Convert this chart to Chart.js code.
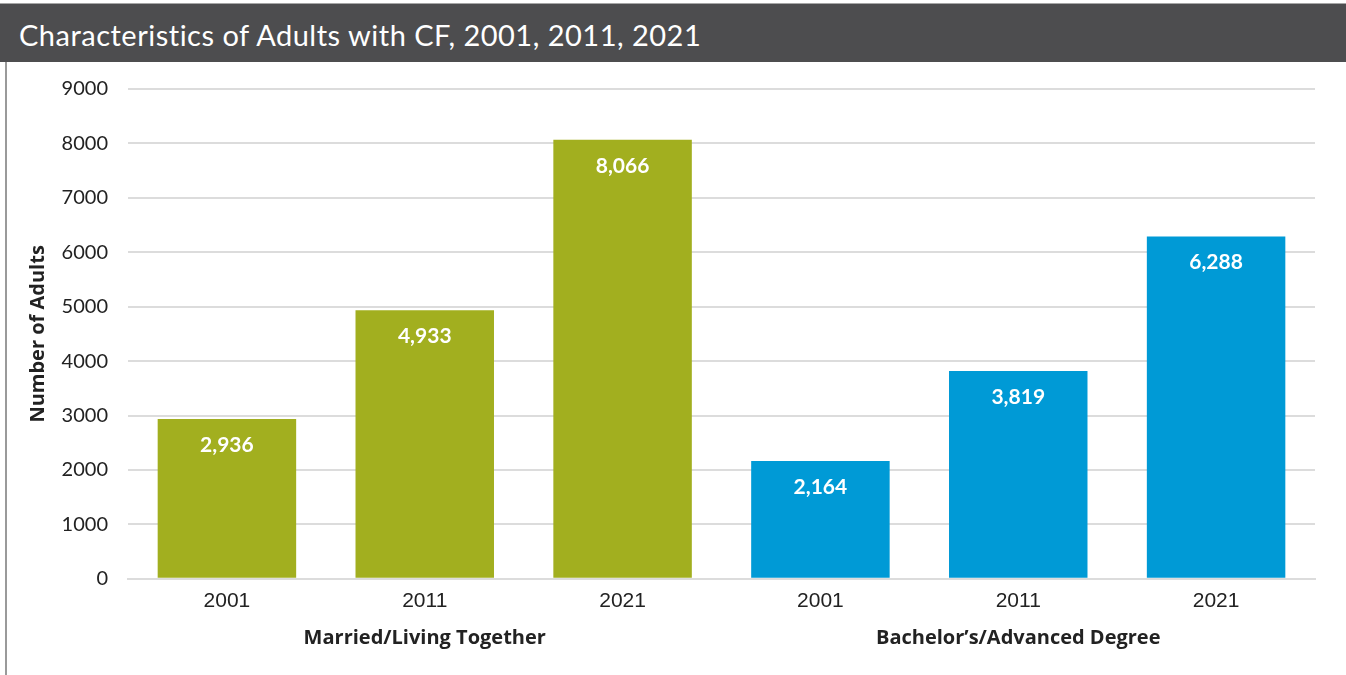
<!DOCTYPE html>
<html>
<head>
<meta charset="utf-8">
<script src="https://cdn.jsdelivr.net/npm/chart.js@4.4.0/dist/chart.umd.min.js"></script>
<style>
  body { margin: 0; background: #fff; width: 1346px; height: 675px; overflow: hidden; position: relative; }
  .frame { position: absolute; left: 0; top: 3px; width: 1346px; height: 672px; border-top: 1px solid #a6a6a6; }
  .head { position: absolute; left: 0; top: 4px; width: 1346px; height: 58px; background: #4d4d4f; }
  .head h1 { margin: 0; padding: 2px 0 0 19px; font: 400 29px Lato, sans-serif; line-height: 58px; color: #fff; letter-spacing: 0.5px; }
  .side { position: absolute; left: 5px; top: 62px; width: 2px; height: 613px; background: #9a9a9a; }
  .wrap { position: absolute; left: 0; top: 62px; width: 1346px; height: 613px; }
</style>
</head>
<body>
<div class="frame"></div>
<div class="head"><h1>Characteristics of Adults with CF, 2001, 2011, 2021</h1></div>
<div class="side"></div>
<div class="wrap"><canvas id="myChart"></canvas></div>
<script>
const years = ["2001", "2011", "2021", "2001", "2011", "2021"];
const groups = ["Married/Living Together", "Bachelor\u2019s/Advanced Degree"];
const adults = [2936, 4933, 8066, 2164, 3819, 6288];
const barColors = ["#a2af1f", "#a2af1f", "#a2af1f", "#009ad6", "#009ad6", "#009ad6"];
const yTicks = [0, 1000, 2000, 3000, 4000, 5000, 6000, 7000, 8000, 9000];

// value printed inside the top of each bar
const barValues = {
  id: "barValues",
  afterDatasetsDraw(chart) {
    const ctx = chart.ctx;
    const meta = chart.getDatasetMeta(0);
    ctx.save();
    ctx.fillStyle = "#fff";
    ctx.font = "bold 21px Lato, sans-serif";
    ctx.textAlign = "center";
    ctx.textBaseline = "middle";
    meta.data.forEach(function (bar, i) {
      ctx.fillText(adults[i].toLocaleString("en-US"), bar.x, bar.y + 26);
    });
    ctx.restore();
  },
};

function renderChart() {
  const ctx = document.getElementById("myChart");

  new Chart(ctx, {
    type: "bar",
    data: {
      labels: years,
      datasets: [
        {
          data: adults,
          backgroundColor: barColors,
          categoryPercentage: 0.7,
          barPercentage: 1,
        },
      ],
    },
    options: {
      responsive: true,
      maintainAspectRatio: false,
      animation: false,
      layout: { padding: { top: 27, right: 31, bottom: 23, left: 0 } },
      plugins: { legend: { display: false }, tooltip: { enabled: false } },
      scales: {
        x: {
          z: 1,
          grid: { display: false, drawTicks: false },
          border: { display: true, color: "#dcdcdc", width: 2 },
          ticks: { color: "#222", font: { family: "Liberation Sans", size: 21 }, padding: 10 },
        },
        x2: {
          type: "category",
          labels: groups,
          offset: true,
          position: "bottom",
          grid: { display: false, drawTicks: false },
          border: { display: false },
          ticks: { color: "#222", font: { family: "Open Sans", size: 20, weight: "bold" }, padding: 2 },
        },
        y: {
          min: 0,
          max: 9000,
          afterBuildTicks(scale) {
            scale.ticks = yTicks.map(function (v) { return { value: v }; });
          },
          afterFit(scale) {
            scale.width = 128;
          },
          // invisible tick marks keep the labels clear of the grid
          grid: { color: "#dcdcdc", lineWidth: 2, drawTicks: true, tickLength: 20, tickColor: "rgba(0,0,0,0)" },
          border: { display: false },
          ticks: {
            color: "#222",
            font: { family: "Lato", size: 20 },
            padding: 0,
            callback: function (value) { return String(value); },
          },
          title: {
            display: true,
            text: "Number of Adults",
            color: "#222",
            font: { family: "Open Sans", size: 20, weight: "bold" },
            padding: { top: 26, bottom: 0 },
          },
        },
      },
    },
    plugins: [barValues],
  });
}
renderChart();
</script>
</body>
</html>
